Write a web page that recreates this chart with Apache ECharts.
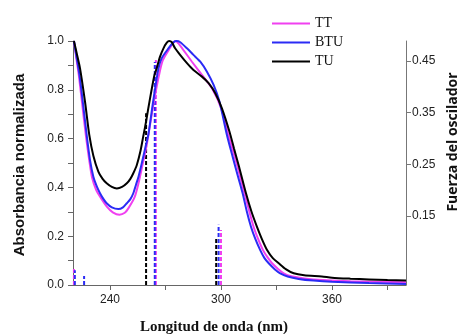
<!DOCTYPE html>
<html><head><meta charset="utf-8">
<script src="https://cdn.jsdelivr.net/npm/echarts@6/dist/echarts.min.js"></script>
<style>html,body{margin:0;padding:0;background:#fff}#c{width:468px;height:334px}</style>
</head><body><div id="c"></div>
<script>
// Absorbance curves [wavelength nm, normalized absorbance]
const TT = [[220.5,1.0],[222,0.92],[223.3,0.85],[225,0.74],[227,0.61],[228.8,0.51],[230.3,0.44],[232.5,0.39],[234.8,0.36],[238.4,0.32],[241.5,0.298],[245.1,0.288],[248,0.296],[250,0.315],[253.3,0.36],[255.5,0.42],[257.5,0.49],[259.5,0.56],[261.3,0.64],[263.7,0.75],[266.5,0.86],[268.5,0.92],[271.5,0.96],[274,0.99],[275.5,1.0],[277,0.99],[279,0.97],[284.3,0.915],[289.7,0.861],[295.1,0.806],[300.1,0.724],[303.8,0.62],[308,0.51],[310.5,0.44],[312.7,0.376],[315,0.31],[317.6,0.239],[320,0.19],[322.7,0.143],[325,0.115],[327.6,0.089],[331,0.065],[333.9,0.048],[338,0.036],[345,0.027],[355,0.02],[370,0.015],[400,0.011]];
const BTU = [[220.5,1.0],[222,0.93],[223.5,0.86],[225.3,0.751],[227.4,0.615],[229.2,0.512],[231,0.444],[232.8,0.405],[234.6,0.376],[236.5,0.352],[238.2,0.335],[241,0.318],[244.5,0.311],[247,0.318],[249.1,0.335],[251,0.352],[252.6,0.376],[254,0.41],[255.4,0.444],[257.2,0.5],[259,0.56],[260.8,0.62],[263.3,0.751],[266.2,0.888],[268,0.93],[271.6,0.97],[274.3,0.995],[276,1.0],[278,0.995],[281.6,0.97],[285.1,0.943],[288.8,0.915],[292.4,0.874],[296,0.82],[299.2,0.751],[303.2,0.615],[306.5,0.52],[309,0.45],[311.7,0.376],[314,0.3],[316.2,0.239],[318.5,0.19],[321.2,0.143],[323.5,0.11],[325.8,0.089],[329,0.065],[332,0.048],[336,0.035],[342,0.025],[350,0.018],[360,0.013],[380,0.008],[400,0.004]];
const TU = [[220.5,1.0],[222,0.95],[223.8,0.888],[226.5,0.751],[228.8,0.615],[231,0.53],[233.7,0.465],[236,0.435],[238.2,0.417],[241,0.402],[243.7,0.396],[246.5,0.402],[249.1,0.417],[251,0.435],[252.6,0.458],[254.5,0.492],[256.5,0.55],[258,0.61],[259.5,0.67],[260.5,0.715],[262,0.78],[264,0.86],[265.3,0.89],[267,0.935],[268.9,0.97],[270.7,0.993],[272,1.0],[273.4,0.995],[275.2,0.97],[277.9,0.943],[281.6,0.909],[285.1,0.881],[289.7,0.854],[293.3,0.827],[296.9,0.786],[300.5,0.724],[304.6,0.628],[307,0.56],[309.5,0.492],[313.5,0.376],[316.5,0.3],[319.4,0.239],[322,0.19],[324.9,0.143],[328,0.11],[331.2,0.089],[335,0.065],[339.3,0.048],[345,0.04],[354.5,0.035],[360,0.03],[370,0.026],[380,0.023],[390,0.02],[400,0.018]];
// Oscillator strengths [wavelength nm, f]
const stemsTT = [[220.5,0.049],[264.8,0.452],[300.0,0.123]];
const stemsBTU = [[221.0,0.045],[226.0,0.034],[264.2,0.448],[298.7,0.133]];
const stemsTU = [[259.5,0.349],[297.4,0.107]];
// Axis ticks
const xTicks = [240,270,300,330,360,390];
const xLabels = [240,300,360];
const fTicks = [0.15,0.25,0.35,0.45];

const names = ['TT','BTU','TU'];
const colors = {TT:'#f040f0', BTU:'#2b2bf5', TU:'#000000'};
const F_MIN = 0.0165, F_MAX = 0.4887;

const series = [];
[['TT',stemsTT],['BTU',stemsBTU],['TU',stemsTU]].forEach(([n,arr])=>{
  arr.forEach((s,i)=>{
    series.push({name:n+'_f'+i, type:'line', yAxisIndex:1, symbol:'none', silent:true,
      data:[[s[0],F_MIN],[s[0],s[1]]],
      lineStyle:{color:colors[n], width:2, type:[4,2]}, z:1});
  });
});
[['TT',TT],['BTU',BTU],['TU',TU]].forEach(([n,arr])=>{
  series.push({name:n, type:'line', yAxisIndex:0, symbol:'none', smooth:0.25, data:arr,
    lineStyle:{color:colors[n], width:2}, itemStyle:{color:colors[n]}, z:3});
});

const chart = echarts.init(document.getElementById('c'), null, {renderer:'canvas'});
const lblStyle = {color:'#222', fontFamily:'Liberation Sans', fontSize:12};
chart.setOption({
  animation:false,
  grid:{left:73, right:62, top:41, bottom:49, containLabel:false},
  legend:{data:names, orient:'vertical', left:267, top:11, itemWidth:38, itemHeight:2, itemGap:4,
    icon:'rect',
    textStyle:{fontFamily:'Liberation Serif', fontSize:14, lineHeight:15, color:'#111'}},
  xAxis:{type:'value', min:220, max:400,
    axisLine:{lineStyle:{color:'#666', width:1}},
    axisTick:{customValues:xTicks, length:5, lineStyle:{color:'#666'}},
    axisLabel:{customValues:xLabels, margin:9, ...lblStyle},
    splitLine:{show:false}},
  yAxis:[
    {type:'value', min:0, max:1, interval:0.1,
      axisLine:{show:true, lineStyle:{color:'#666'}},
      axisTick:{show:true, length:5, lineStyle:{color:'#666'}},
      axisLabel:{margin:9, ...lblStyle, formatter:v=>Math.round(v*10)%2===0?v.toFixed(1):''},
      splitLine:{show:false}},
    {type:'value', min:F_MIN, max:F_MAX, position:'right',
      axisLine:{show:true, lineStyle:{color:'#777'}},
      axisTick:{show:true, customValues:fTicks, length:5, lineStyle:{color:'#777'}},
      axisLabel:{customValues:fTicks, margin:6, ...lblStyle, formatter:v=>v.toFixed(2)},
      splitLine:{show:false}}
  ],
  graphic:[
    {type:'text', x:20, y:165, rotation:Math.PI/2,
      style:{text:'Absorbancia normalizada', fontFamily:'Liberation Sans', fontWeight:'bold', fontSize:15, fill:'#111', textAlign:'center', textVerticalAlign:'middle'}},
    {type:'text', x:453, y:142, rotation:Math.PI/2,
      style:{text:'Fuerza del oscilador', fontFamily:'Open Sans', fontWeight:'bold', fontSize:14, fill:'#111', textAlign:'center', textVerticalAlign:'middle'}},
    {type:'text', x:214, y:327,
      style:{text:'Longitud de onda (nm)', fontFamily:'Liberation Serif', fontWeight:'bold', fontSize:15, fill:'#111', textAlign:'center', textVerticalAlign:'middle'}}
  ],
  series:series
});
</script></body></html>
